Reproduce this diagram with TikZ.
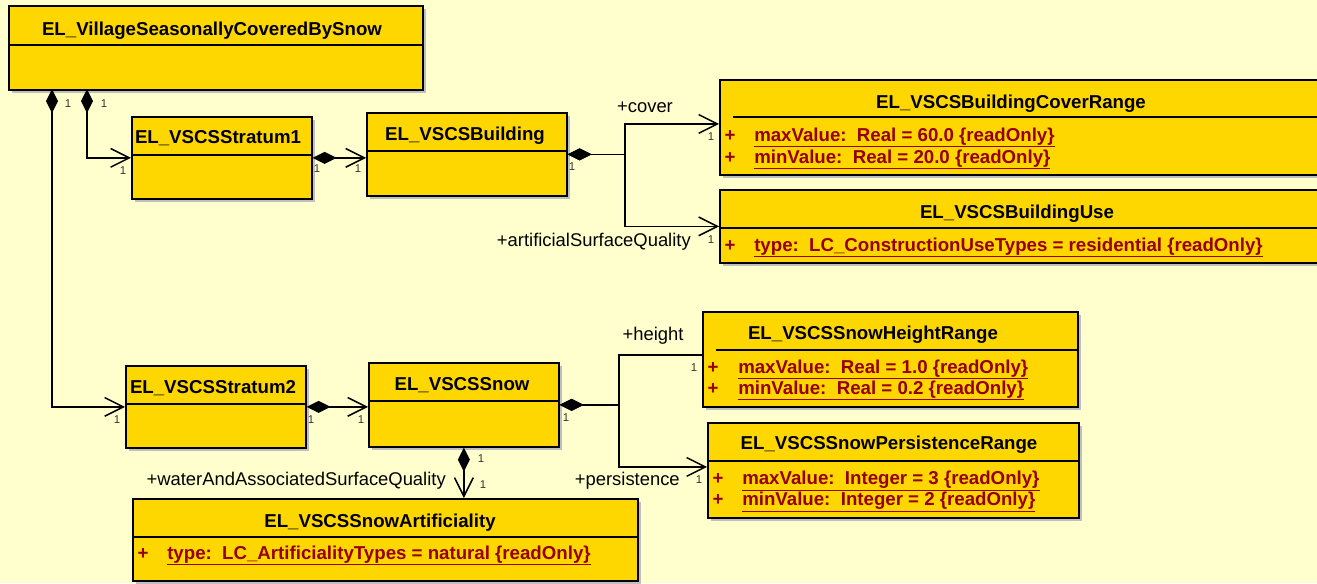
\documentclass[tikz,border=0pt]{standalone}
\usepackage{fontspec}
\setmainfont{Liberation Sans}
\usetikzlibrary{arrows.meta,shadows}

\definecolor{umlbg}{RGB}{255,255,206}
\definecolor{umlgold}{RGB}{255,215,0}
\definecolor{attrred}{RGB}{150,0,0}

\newdimen\px \px=0.75pt
\newcommand{\clsfont}{\bfseries\fontsize{14}{16}\selectfont}
\newcommand{\rolefont}{\fontsize{13.8}{16}\selectfont}
\newcommand{\multfont}{\fontsize{8.5}{10}\selectfont}

\tikzset{
  umlbox/.style={draw, line width=1.3pt, fill=umlgold, anchor=north west, inner sep=0pt,
    drop shadow={shadow xshift=2.25pt, shadow yshift=-2.25pt, fill=black!25, opacity=1}},
  divider/.style={line width=1.3pt},
  clstitle/.style={font=\clsfont, anchor=base, inner sep=0pt},
  attr/.style={font=\clsfont, text=attrred, anchor=base west, inner sep=0pt},
  attrplus/.style={font=\clsfont, text=attrred, anchor=base, inner sep=0pt},
  role/.style={font=\rolefont, anchor=base, inner sep=0pt},
  mult/.style={font=\multfont, text=black!80, inner sep=0pt},
  comp/.style={line width=1.1pt,
    {Diamond[length=18pt,width=9pt]}-{Straight Barb[length=14pt,width=14pt]}},
  compnotip/.style={line width=1.1pt, {Diamond[length=18pt,width=9pt]}-},
}

\begin{document}
\begin{tikzpicture}[x=0.75pt,y=-0.75pt]
  \useasboundingbox (0,0) rectangle (1317,583);
  \clip (0,0) rectangle (1317,583);
  \fill[umlbg] (0,0) rectangle (1317,583);

  % classes
  \node[umlbox, minimum width=414\px, minimum height=84\px] (village) at (8,5) {};
  \node[umlbox, minimum width=180\px, minimum height=82\px] (stratum1) at (131,116) {};
  \node[umlbox, minimum width=200\px, minimum height=83\px] (building) at (366,112) {};
  \node[umlbox, minimum width=620\px, minimum height=95\px] (coverrange) at (719,79) {};
  \node[umlbox, minimum width=620\px, minimum height=73\px] (buildinguse) at (719,189) {};
  \node[umlbox, minimum width=180\px, minimum height=82\px] (stratum2) at (125,365) {};
  \node[umlbox, minimum width=190\px, minimum height=84\px] (snow) at (368,362) {};
  \node[umlbox, minimum width=505\px, minimum height=82\px] (artific) at (132,498) {};
  \node[umlbox, minimum width=375\px, minimum height=95\px] (heightrange) at (702,311) {};
  \node[umlbox, minimum width=371\px, minimum height=95\px] (persrange) at (707,422) {};

  % compartments
  \draw[divider] (village.west |- 0,45) -- (village.east |- 0,45);
  \draw[divider] (stratum1.west |- 0,155) -- (stratum1.east |- 0,155);
  \draw[divider] (building.west |- 0,151) -- (building.east |- 0,151);
  \draw[divider] (733,117) -- (coverrange.east |- 0,117);
  \draw[divider] (buildinguse.west |- 0,228) -- (buildinguse.east |- 0,228);
  \draw[divider] (stratum2.west |- 0,404) -- (stratum2.east |- 0,404);
  \draw[divider] (snow.west |- 0,401) -- (snow.east |- 0,401);
  \draw[divider] (artific.west |- 0,537) -- (artific.east |- 0,537);
  \draw[divider] (716,350) -- (heightrange.east |- 0,350);
  \draw[divider] (persrange.west |- 0,461) -- (persrange.east |- 0,461);

  % names
  \node[clstitle] (village-t) at (212,35) {EL\_VillageSeasonallyCoveredBySnow};
  \node[clstitle] (stratum1-t) at (218,143) {EL\_VSCSStratum1};
  \node[clstitle] (building-t) at (465,140) {EL\_VSCSBuilding};
  \node[clstitle] (coverrange-t) at (1011,108) {EL\_VSCSBuildingCoverRange};
  \node[clstitle] (buildinguse-t) at (1017,218) {EL\_VSCSBuildingUse};
  \node[clstitle] (stratum2-t) at (213,393) {EL\_VSCSStratum2};
  \node[clstitle] (snow-t) at (462,390) {EL\_VSCSSnow};
  \node[clstitle] (artific-t) at (380,527) {EL\_VSCSSnowArtificiality};
  \node[clstitle] (heightrange-t) at (873,339) {EL\_VSCSSnowHeightRange};
  \node[clstitle] (persrange-t) at (889,449) {EL\_VSCSSnowPersistenceRange};

  % attributes
  \node[attrplus] (coverrange-p1) at (730,141) {+};
  \node[attr] (coverrange-a1) at (754,141) {\underline{maxValue:\ \ Real = 60.0 \{readOnly\}}};
  \node[attrplus] (coverrange-p2) at (730,163) {+};
  \node[attr] (coverrange-a2) at (754,163) {\underline{minValue:\ \ Real = 20.0 \{readOnly\}}};
  \node[attrplus] (buildinguse-p1) at (730,251) {+};
  \node[attr] (buildinguse-a1) at (754,251) {\underline{type:\ \ LC\_ConstructionUseTypes = residential \{readOnly\}}};
  \node[attrplus] (heightrange-p1) at (713,373) {+};
  \node[attr] (heightrange-a1) at (738,373) {\underline{maxValue:\ \ Real = 1.0 \{readOnly\}}};
  \node[attrplus] (heightrange-p2) at (713,394) {+};
  \node[attr] (heightrange-a2) at (738,394) {\underline{minValue:\ \ Real = 0.2 \{readOnly\}}};
  \node[attrplus] (persrange-p1) at (718,484) {+};
  \node[attr] (persrange-a1) at (742,484) {\underline{maxValue:\ \ Integer = 3 \{readOnly\}}};
  \node[attrplus] (persrange-p2) at (718,505) {+};
  \node[attr] (persrange-a2) at (742,505) {\underline{minValue:\ \ Integer = 2 \{readOnly\}}};
  \node[attrplus] (artific-p1) at (143,559) {+};
  \node[attr] (artific-a1) at (167,559) {\underline{type:\ \ LC\_ArtificialityTypes = natural \{readOnly\}}};

  % associations
  \coordinate (v1) at (52,89);
  \coordinate (v2) at (87,89);
  \coordinate (bsplit) at (building.east -| 625,0);
  \coordinate (ssplit) at (snow.east -| 619,0);
  \draw[comp] (v2) |- (stratum1.west);
  \draw[comp] (v1) |- (stratum2.west);
  \draw[comp] (stratum1.east) -- (stratum1.east -| building.west);
  \draw[comp] (building.east) -- (bsplit) |- ([yshift=2.6pt]coverrange.west);
  \draw[comp] (building.east) -- (bsplit) |- (buildinguse.west);
  \draw[comp] (stratum2.east) -- (stratum2.east -| snow.west);
  \draw[compnotip] (snow.east) -- (ssplit) |- ([yshift=3.4pt]heightrange.west);
  \draw[comp] (snow.east) -- (ssplit) |- ([yshift=2.6pt]persrange.west);
  \draw[comp] (snow.south) -- (snow.south |- artific.north);

  % roles
  \node[role] (cover-r) at (645,112) {+cover};
  \node[role, anchor=base east] (asq-r) at (691,246) {+artificialSurfaceQuality};
  \node[role] (height-r) at (653,340) {+height};
  \node[role, anchor=base east] (pers-r) at (680,485) {+persistence};
  \node[role, anchor=base east] (water-r) at (446,485) {+waterAndAssociatedSurfaceQuality};

  % multiplicities
  \node[mult] (v1-m) at (68,104) {1};
  \node[mult] (v2-m) at (104,104) {1};
  \node[mult] (stratum1-m) at (123,171) {1};
  \node[mult] (stratum1-m2) at (317,169) {1};
  \node[mult] (building-m) at (358,169) {1};
  \node[mult] (building-m2) at (572,167) {1};
  \node[mult] (coverrange-m) at (711,137) {1};
  \node[mult] (buildinguse-m) at (711,240) {1};
  \node[mult] (stratum2-m) at (117,420) {1};
  \node[mult] (stratum2-m2) at (311,420) {1};
  \node[mult] (snow-m) at (361,420) {1};
  \node[mult] (snow-m2) at (566,418) {1};
  \node[mult] (heightrange-m) at (694,368) {1};
  \node[mult] (persrange-m) at (699,480) {1};
  \node[mult] (snow-m3) at (481,459) {1};
  \node[mult] (artific-m) at (483,485) {1};
\end{tikzpicture}
\end{document}
